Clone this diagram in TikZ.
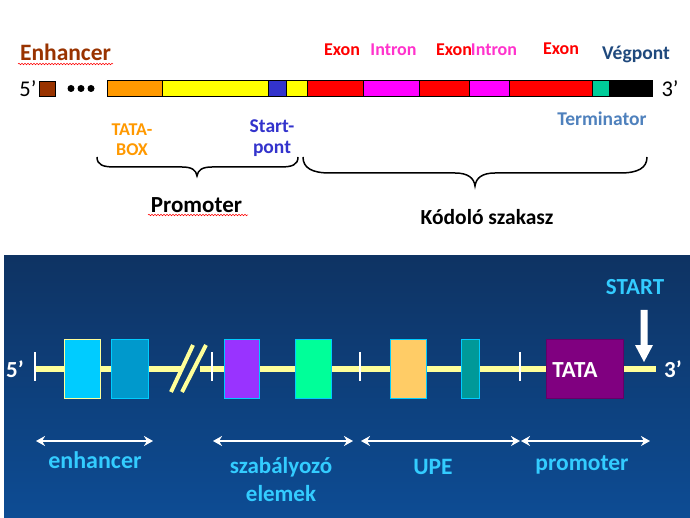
\documentclass[tikz,border=0pt]{standalone}
\usepackage{fontspec}
\setmainfont{Carlito}
\usetikzlibrary{arrows.meta,decorations.pathmorphing}
\definecolor{brownA}{HTML}{993300}
\definecolor{orangeA}{HTML}{FF9900}
\definecolor{yellowA}{HTML}{FFFF00}
\definecolor{blueA}{HTML}{3333CC}
\definecolor{redA}{HTML}{FF0000}
\definecolor{magA}{HTML}{FF00FF}
\definecolor{intronC}{HTML}{FF33CC}
\definecolor{termG}{HTML}{00CC99}
\definecolor{vegC}{HTML}{1F497D}
\definecolor{termC}{HTML}{4F81BD}
\definecolor{bgTop}{HTML}{0E3363}
\definecolor{bgBot}{HTML}{0D4C94}
\definecolor{dnaY}{HTML}{FFFF99}
\definecolor{labC}{HTML}{33CCFF}
\definecolor{cyanA}{HTML}{00CCFF}
\definecolor{cyanB}{HTML}{0099CC}
\definecolor{purA}{HTML}{9933FF}
\definecolor{grnA}{HTML}{00FF99}
\definecolor{orgB}{HTML}{FFCC66}
\definecolor{tealA}{HTML}{009999}
\definecolor{tataC}{HTML}{800080}
\definecolor{tataD}{HTML}{660066}
\tikzset{
  segbox/.style={draw=black, line width=0.8pt, inner sep=0pt, outer sep=0pt, minimum height=16pt, anchor=west},
  gbox/.style={draw=cyanA, line width=1pt, inner sep=0pt, outer sep=0pt, minimum height=59pt, anchor=north west},
  lbl/.style={inner sep=0pt, font=\bfseries},
  bracestyle/.style={line width=1.5pt, black},
  wavy/.style={redA, line width=0.5pt, decorate, decoration={snake, amplitude=0.8pt, segment length=3pt}},
  dnaline/.style={dnaY, line width=6pt},
  tickmark/.style={white, line width=2pt},
  span/.style={white, line width=2.5pt, {Stealth[length=9pt,width=10pt]}-{Stealth[length=9pt,width=10pt]}},
}
\newcommand\fs[1]{\fontsize{#1}{#1}\selectfont}
\begin{document}
\begin{tikzpicture}[x=1pt,y=-1pt]
\useasboundingbox (0,0) rectangle (690,518);
\fill[white] (0,0) rectangle (690,518);

% ---------- top panel ----------
\node[lbl, text=brownA, font=\bfseries\fs{23.5}] (enh) at (65.5,52) {Enhancer};
\draw[wavy] (18,64) -- (113,64);
\node[inner sep=0pt, font=\fs{22.5}] (p5) at (28,89) {5’};
\node[draw=black, line width=0.8pt, fill=brownA, inner sep=0pt, minimum width=16pt, minimum height=15pt] (brsq) at (47.5,88.5) {};
\foreach \x/\n in {71/d1,81/d2,91/d3} \fill[black] (\x,88.5) circle (3.5pt) coordinate (\n);

\node[segbox, fill=orangeA, minimum width=55pt] (s1) at (107,88) {};
\node[segbox, fill=yellowA, minimum width=106pt] (s2) at (162,88) {};
\node[segbox, fill=blueA, minimum width=18pt] (s3) at (268,88) {};
\node[segbox, fill=yellowA, minimum width=21pt] (s4) at (286,88) {};
\node[segbox, fill=redA, minimum width=56pt] (s5) at (307,88) {};
\node[segbox, fill=magA, minimum width=56pt] (s6) at (363,88) {};
\node[segbox, fill=redA, minimum width=50pt] (s7) at (419,88) {};
\node[segbox, fill=magA, minimum width=40pt] (s8) at (469,88) {};
\node[segbox, fill=redA, minimum width=83pt] (s9) at (509,88) {};
\node[segbox, fill=termG, minimum width=17pt] (s10) at (592,88) {};
\node[segbox, fill=black, minimum width=43pt] (s11) at (609,88) {};
\node[inner sep=0pt, font=\fs{22.5}] (p3) at (670,89) {3’};

\node[lbl, text=redA, font=\bfseries\fs{18}] (ex1) at (342,50) {Exon};
\node[lbl, text=intronC, font=\bfseries\fs{18}] (in1) at (393.5,50) {Intron};
\node[lbl, text=redA, font=\bfseries\fs{18}] (ex2) at (454,50) {Exon};
\node[lbl, text=intronC, font=\bfseries\fs{18}] (in2) at (494,50) {Intron};
\node[lbl, text=redA, font=\bfseries\fs{18}] (ex3) at (561,49) {Exon};
\node[lbl, text=vegC, font=\bfseries\fs{19.5}] (veg) at (636,54) {Végpont};

\node[lbl, text=orangeA, font=\bfseries\fs{18}, align=center] (tbox) at (132,140) {TATA-\\[2pt]BOX};
\node[lbl, text=blueA, font=\bfseries\fs{19.5}, align=center] (spont) at (272,138) {Start-\\[1pt]pont};
\node[lbl, text=termC, font=\bfseries\fs{19.5}] (term) at (602,119) {Terminator};

\draw[bracestyle] (97,157) .. controls (97,165) and (103,167) .. (115,167) -- (182,167)
  .. controls (192,167) and (196,170) .. (197,176)
  .. controls (198,170) and (202,167) .. (212,167) -- (280,167)
  .. controls (292,167) and (298,165) .. (298,157);
\draw[bracestyle] (303,157) .. controls (303,168) and (312,173) .. (330,173) -- (455,173)
  .. controls (468,173) and (474,178) .. (475,186)
  .. controls (476,178) and (482,173) .. (495,173) -- (620,173)
  .. controls (638,173) and (647,168) .. (647,157);

\node[lbl, font=\bfseries\fs{23}] (prom) at (196.5,205) {Promoter};
\draw[wavy] (148,215) -- (248,215);
\node[lbl, font=\bfseries\fs{21.5}] (kod) at (487,217) {Kódoló szakasz};

% ---------- bottom panel ----------
\shade[top color=bgTop, bottom color=bgBot] (4,256) rectangle (690,518);

\draw[dnaline] (35,369) -- (182,369);
\draw[dnaline] (200,369) -- (656,369);
\draw[dnaY, line width=4pt] (171,392) -- (193,345);
\draw[dnaY, line width=4pt] (182,392) -- (206,345);
\foreach \x in {35,212,360,520} \draw[tickmark] (\x,352) -- (\x,381);

\node[gbox, fill=cyanA, draw=dnaY, minimum width=36pt] (b1) at (64,339) {};
\node[gbox, fill=cyanB, minimum width=37pt] (b2) at (111,339) {};
\node[gbox, fill=purA, minimum width=35pt] (b3) at (224,339) {};
\node[gbox, fill=grnA, minimum width=36pt] (b4) at (295,339) {};
\node[gbox, fill=orgB, minimum width=36pt] (b5) at (390,339) {};
\node[gbox, fill=tealA, minimum width=18pt] (b6) at (461,339) {};
\node[gbox, fill=tataC, draw=tataD, minimum width=77pt] (b7) at (546,339) {};
\node[lbl, text=white, font=\bfseries\fs{23}] (tata) at (575,370) {TATA};

\node[lbl, text=white, font=\bfseries\fs{23}] (q5) at (15,369) {5’};
\node[lbl, text=white, font=\bfseries\fs{23}] (q3) at (673,369) {3’};

\node[lbl, text=labC, font=\bfseries\fs{23}] (start) at (635,287) {START};
\fill[white] (640.5,310) -- (647.5,310) -- (647.5,345) -- (653,345) -- (644,362) -- (635,345) -- (640.5,345) -- cycle;

\coordinate (a1) at (36,441); \coordinate (a2) at (153,441);
\coordinate (a3) at (213,441); \coordinate (a4) at (353,441);
\coordinate (a5) at (361,441); \coordinate (a6) at (520,441);
\coordinate (a7) at (521,441); \coordinate (a8) at (650,441);
\draw[span] (a1) -- (a2);
\draw[span] (a3) -- (a4);
\draw[span] (a5) -- (a6);
\draw[span] (a7) -- (a8);

\node[lbl, text=labC, font=\bfseries\fs{24}] (lenh) at (95,460) {enhancer};
\node[lbl, text=labC, font=\bfseries\fs{23}, align=center] (lszab) at (281,480) {szabályozó\\[5pt]elemek};
\node[lbl, text=labC, font=\bfseries\fs{23.5}] (lupe) at (433,467) {UPE};
\node[lbl, text=labC, font=\bfseries\fs{23.5}] (lprom) at (582,465) {promoter};
\end{tikzpicture}
\end{document}
